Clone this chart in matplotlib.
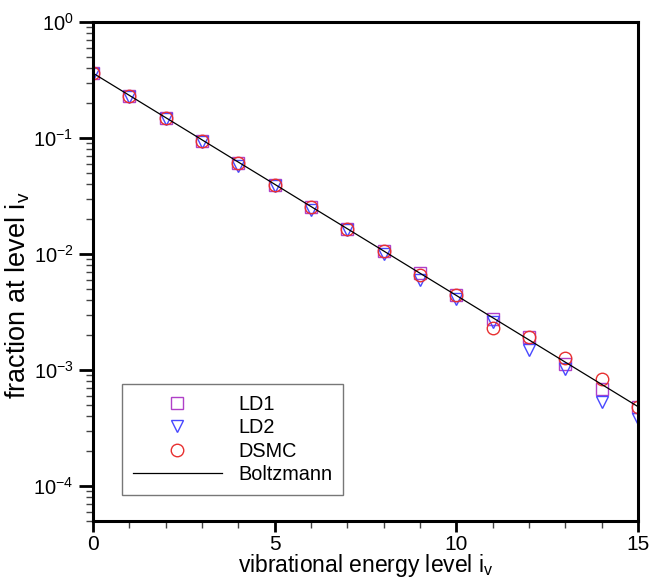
import matplotlib
matplotlib.use('Agg')
import matplotlib.pyplot as plt
from matplotlib.ticker import LogLocator, MultipleLocator, FixedLocator

plt.rcParams['font.family'] = ['Liberation Sans', 'DejaVu Sans']
plt.rcParams['mathtext.fontset'] = 'custom'
plt.rcParams['mathtext.rm'] = 'Liberation Sans'
plt.rcParams['mathtext.it'] = 'Liberation Sans'
plt.rcParams['mathtext.default'] = 'rm'
plt.rcParams['axes.unicode_minus'] = False

# vibrational levels
levels = list(range(16))

# fractions
ld1 = [0.362, 0.229, 0.148, 0.094, 0.061, 0.0394, 0.0256, 0.0165, 0.0106, 0.0069,
       0.0044, 0.00275, 0.00193, 0.00113, 0.00069, 0.000485]
ld2 = [0.360, 0.226, 0.145, 0.092, 0.058, 0.0385, 0.0240, 0.0162, 0.0100, 0.0060,
       0.0041, 0.00262, 0.00148, 0.00103, 0.00053, 0.00038]
dsmc = [0.365, 0.230, 0.150, 0.094, 0.061, 0.0392, 0.0255, 0.0166, 0.0107, 0.0066,
        0.0044, 0.00232, 0.00193, 0.00128, 0.00084, 0.000485]
boltzmann = [0.363, 0.2335, 0.1502, 0.0966, 0.0621, 0.0400, 0.0257, 0.01654, 0.01064, 0.00684,
             0.00440, 0.00283, 0.00182, 0.00117, 0.000753, 0.000484]

fig = plt.figure(figsize=(6.52, 5.81), dpi=100)
ax = fig.add_axes([0.1426, 0.1033, 0.8359, 0.8587])

ax.plot(levels, ld1, 's', mfc='none', mec='#b040c8', ms=8.5, mew=1.0, label='LD1')
ax.plot(levels, ld2, 'v', mfc='none', mec='#4848ff', ms=9, mew=1.0, label='LD2')
ax.plot(levels, dsmc, 'o', mfc='none', mec='#e83030', ms=9, mew=1.0, label='DSMC')
ax.plot(levels, boltzmann, '-', color='black', lw=0.9, label='Boltzmann')

ax.set_yscale('log')
ax.set_xlim(0, 15)
ax.set_ylim(5e-5, 1)

ax.xaxis.set_major_locator(FixedLocator([0, 5, 10, 15]))
ax.xaxis.set_minor_locator(MultipleLocator(1))
ax.yaxis.set_major_locator(LogLocator(base=10, numticks=10))
ax.yaxis.set_minor_locator(LogLocator(base=10, subs=range(2, 10), numticks=10))

for s in ax.spines.values():
    s.set_linewidth(2.2)

ax.tick_params(which='major', direction='out', width=2, labelsize=15,
               top=False, right=False)
ax.tick_params(which='minor', direction='out', length=5, width=1, color='#444444',
               top=False, right=False)
ax.tick_params(axis='x', which='major', length=8, pad=2)
ax.tick_params(axis='y', which='major', length=10, pad=4, labelsize=14.5)

ax.set_xlabel('vibrational energy level i$_v$', fontsize=16.5, labelpad=-1)
ax.set_ylabel('fraction at level i$_v$', fontsize=19.5)
ax.yaxis.set_label_coords(-0.112, 0.453)

leg = ax.legend(loc='lower left', bbox_to_anchor=(0.053, 0.052), borderaxespad=0,
                fontsize=14.3, handlelength=4.5, handletextpad=0.8, borderpad=0.55,
                labelspacing=0.22, fancybox=False, framealpha=1)
leg.get_frame().set_edgecolor('#777777')
leg.get_frame().set_linewidth(1.0)

fig.savefig('out.png', dpi=100)
